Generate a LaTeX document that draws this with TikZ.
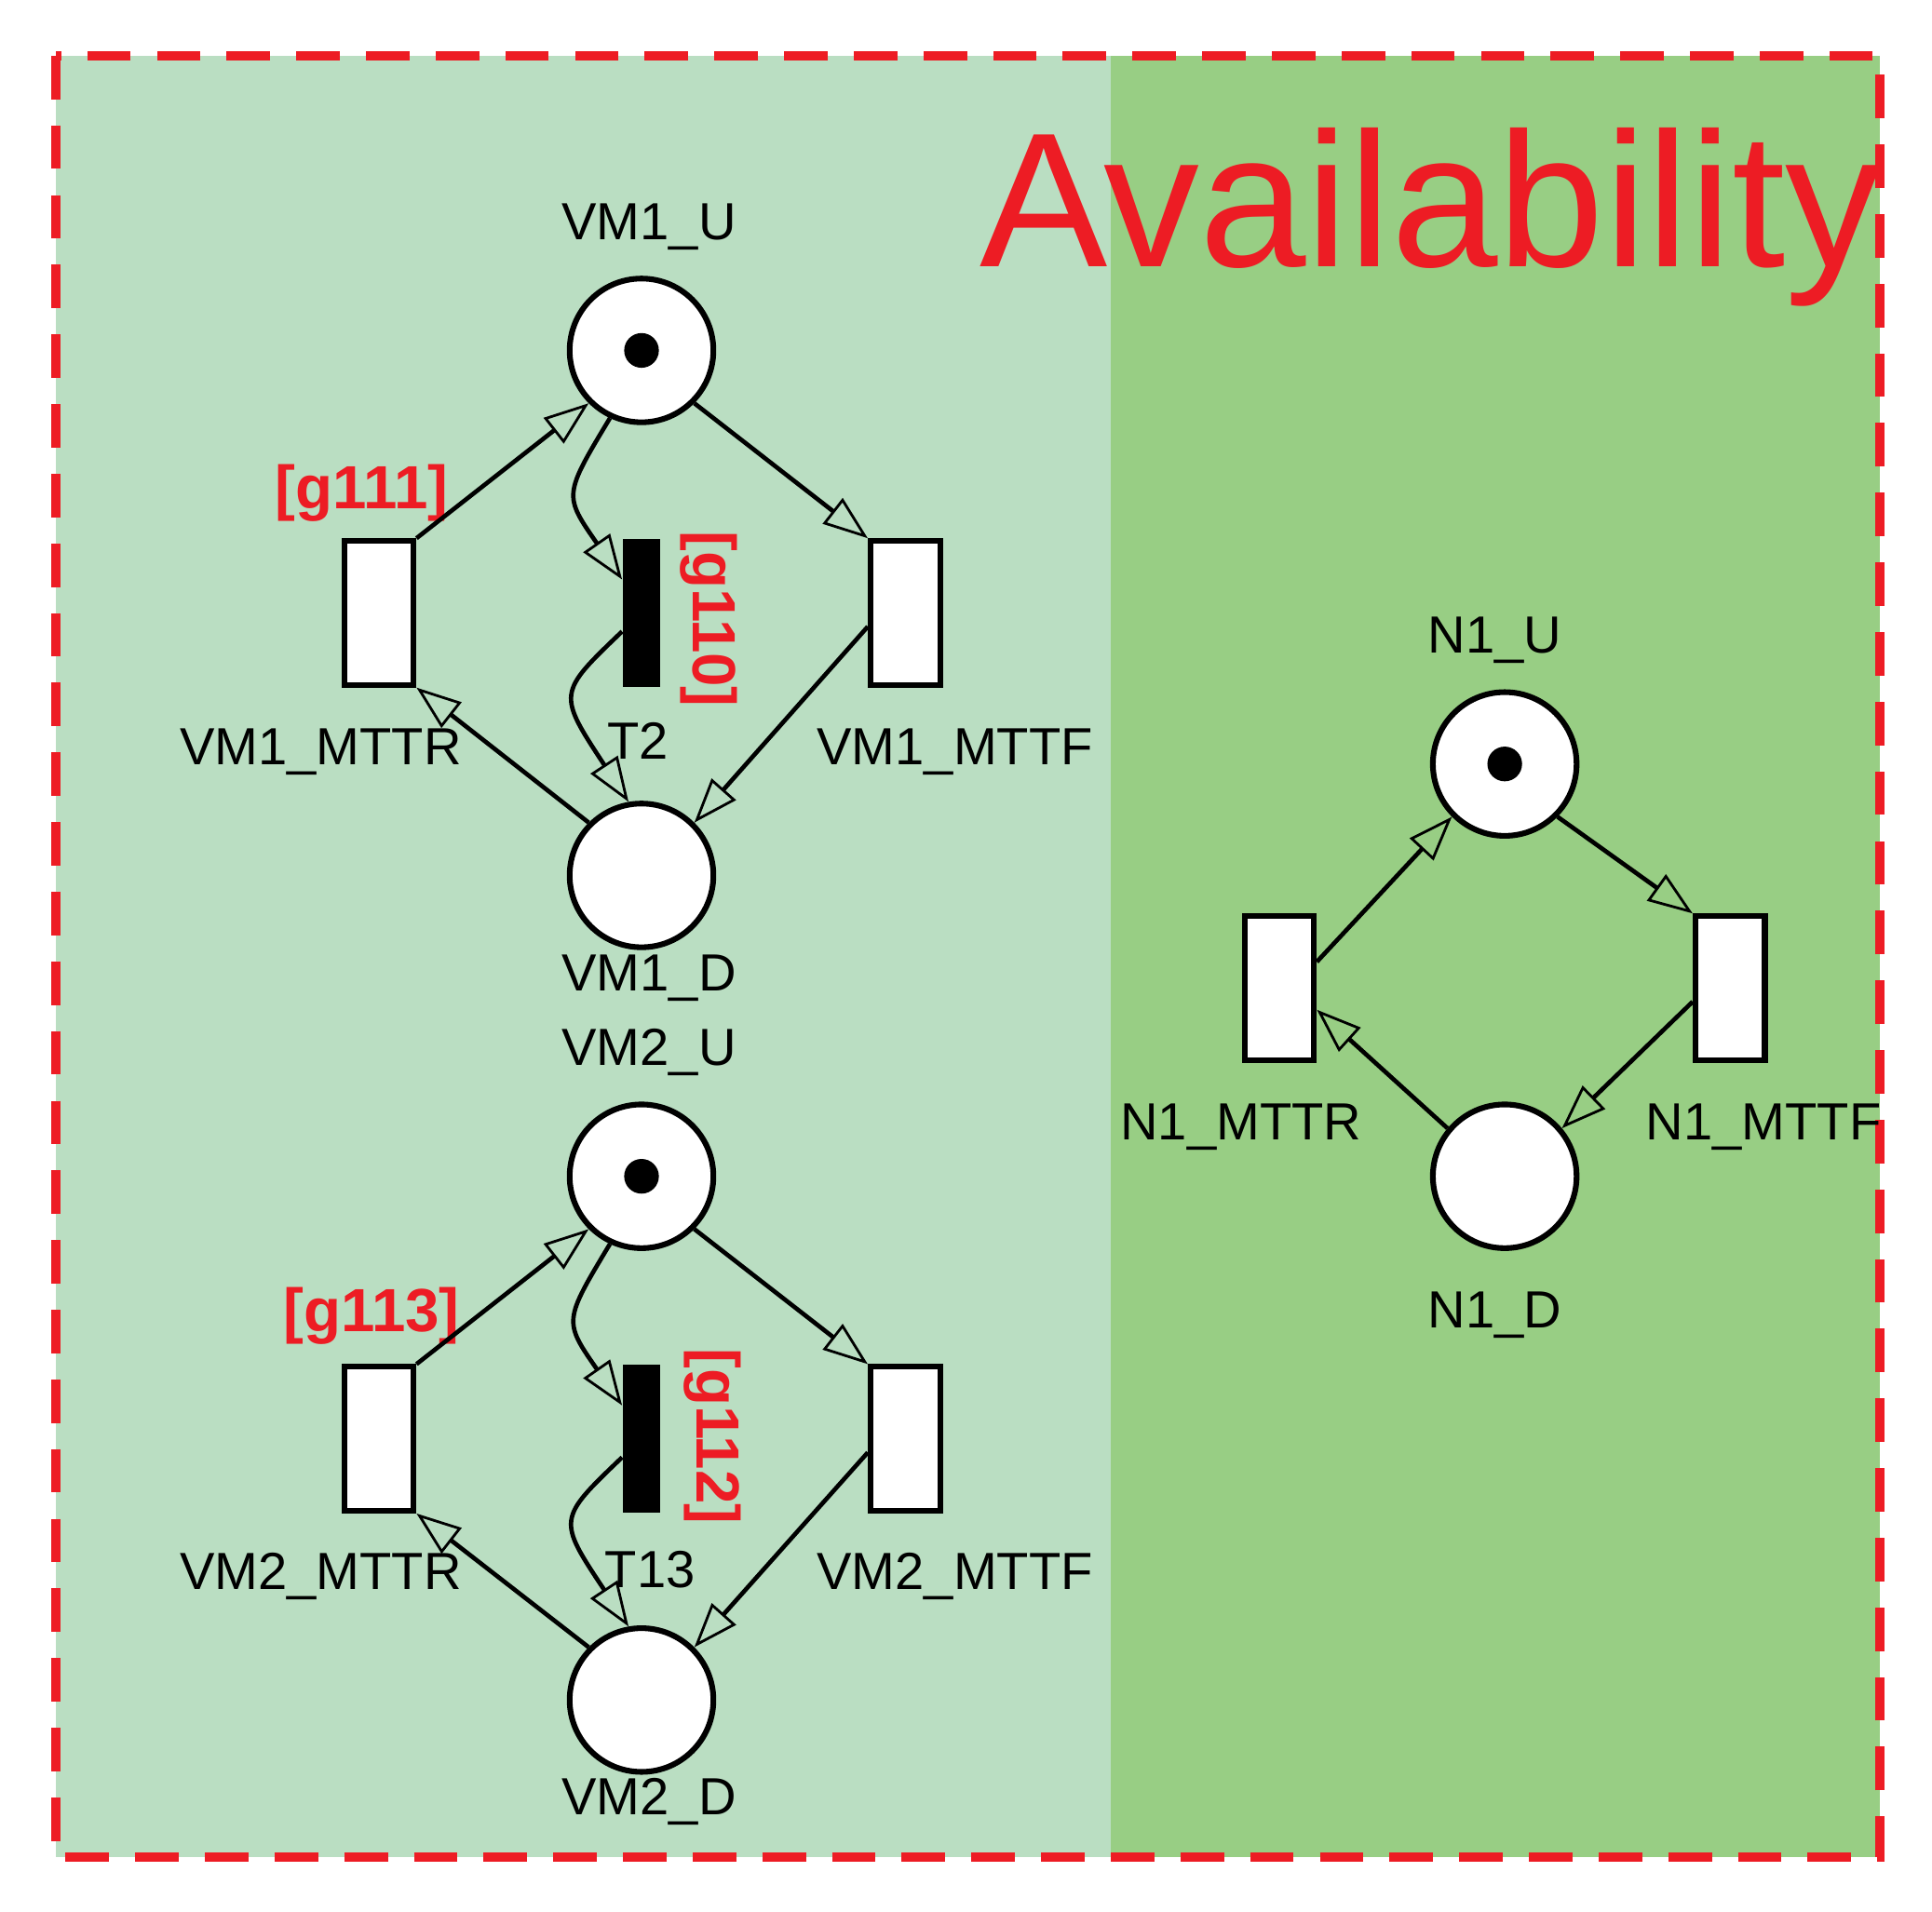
\documentclass[tikz,border=0pt]{standalone}
\usepackage{fontspec}
\setmainfont{Liberation Sans}
\usetikzlibrary{arrows.meta}
\definecolor{lightg}{RGB}{186,222,194}
\definecolor{darkg}{RGB}{152,206,132}
\definecolor{avred}{RGB}{237,28,36}
\tikzstyle{place} = [circle, draw=black, line width=1.3pt, fill=white, minimum size=1.16cm, inner sep=0pt]
\tikzstyle{trans} = [rectangle, draw=black, line width=1.3pt, fill=white, minimum width=0.56cm, minimum height=1.16cm, inner sep=0pt]
\tikzstyle{imm} = [rectangle, fill=black, minimum width=0.3cm, minimum height=1.2cm, inner sep=0pt]
\tikzstyle{lbl} = [font=\fontsize{12}{14}\selectfont]
\tikzstyle{guard} = [font=\bfseries\fontsize{14}{16}\selectfont, text=avred]
\tikzstyle{arrow} = [line width=1pt, -{Triangle[open, length=0.36cm, width=0.26cm, line width=0.6pt]}]

\begin{document}
\begin{tikzpicture}[x=0.01cm, y=-0.01cm]
		\useasboundingbox (0,0) rectangle (1560,1544);
		\fill[lightg] (45,45) rectangle (897,1500);
		\fill[darkg] (897,45) rectangle (1518,1500);
		\draw[avred, line width=2.2pt, dash pattern=on 10pt off 6pt] (45,45) rectangle (1518,1500);
		\node (title) [text=avred, font=\fontsize{44}{50}\selectfont] at (1155,175) {Availability};

		% VM1
		\node (vm1u) [place] at (518,283) {};
		\fill (vm1u) circle (0.14cm);
		\node (vm1d) [place] at (518,707) {};
		\node (vm1r) [trans] at (306,495) {};
		\node (t2) [imm] at (518,495) {};
		\node (vm1f) [trans] at (731,495) {};
		\node [lbl] at (524,183) {VM1\_U};
		\node [lbl] at (524,790) {VM1\_D};
		\node [lbl] at (259,607) {VM1\_MTTR};
		\node [lbl] at (771,607) {VM1\_MTTF};
		\node [lbl] at (515,598) {T2};
		\node [guard] at (292,398) {[g111]};
		\node [guard, rotate=-90] at (572,500) {[g110]};
		\draw[arrow] (vm1r.north east) -- (vm1u.225);
		\draw[arrow] (vm1u.315) -- (vm1f.north west);
		\draw[arrow] (vm1f.200) -- (vm1d.45);
		\draw[arrow] (vm1d.135) -- (vm1r.south east);
		\draw[arrow] (vm1u.245) .. controls (455,400) .. (t2.west |- 0,468);
		\draw[arrow] (t2.west |- 0,510) .. controls (450,560) .. (vm1d.100);

		% VM2
		\node (vm2u) [place] at (518,950) {};
		\fill (vm2u) circle (0.14cm);
		\node (vm2d) [place] at (518,1373) {};
		\node (vm2r) [trans] at (306,1162) {};
		\node (t13) [imm] at (518,1162) {};
		\node (vm2f) [trans] at (731,1162) {};
		\node [lbl] at (524,850) {VM2\_U};
		\node [lbl] at (524,1455) {VM2\_D};
		\node [lbl] at (259,1273) {VM2\_MTTR};
		\node [lbl] at (771,1273) {VM2\_MTTF};
		\node [lbl] at (525,1268) {T13};
		\node [guard] at (300,1063) {[g113]};
		\node [guard, rotate=-90] at (575,1160) {[g112]};
		\draw[arrow] (vm2r.north east) -- (vm2u.225);
		\draw[arrow] (vm2u.315) -- (vm2f.north west);
		\draw[arrow] (vm2f.200) -- (vm2d.45);
		\draw[arrow] (vm2d.135) -- (vm2r.south east);
		\draw[arrow] (vm2u.245) .. controls (455,1067) .. (t13.west |- 0,1135);
		\draw[arrow] (t13.west |- 0,1177) .. controls (450,1227) .. (vm2d.100);

		% N1
		\node (n1u) [place] at (1215,617) {};
		\fill (n1u) circle (0.14cm);
		\node (n1d) [place] at (1215,950) {};
		\node (n1r) [trans] at (1033,798) {};
		\node (n1f) [trans] at (1397,798) {};
		\node [lbl] at (1207,517) {N1\_U};
		\node [lbl] at (1207,1062) {N1\_D};
		\node [lbl] at (1002,910) {N1\_MTTR};
		\node [lbl] at (1424,910) {N1\_MTTF};
		\draw[arrow] (n1r.35) -- (n1u.225);
		\draw[arrow] (n1u.315) -- (n1f.north west);
		\draw[arrow] (n1f.200) -- (n1d.40);
		\draw[arrow] (n1d.140) -- (n1r.330);
	\end{tikzpicture}
\end{document}
